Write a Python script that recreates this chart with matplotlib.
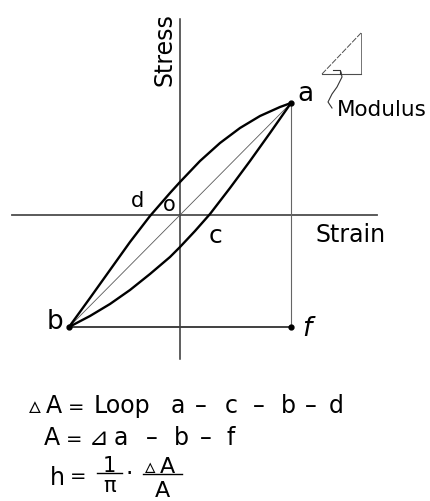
import numpy as np
import matplotlib.pyplot as plt

# loop branches, strain vs stress (origin at axis crossing)
upper_x = [-111, -90, -70, -50, -30, -10, 0, 20, 40, 60, 80, 100, 111]
upper_y = [-112, -83, -55, -27, -1, 22, 33, 54, 72, 87, 99, 108, 112]
lower_x = [-111, -90, -70, -50, -30, -10, 0, 15, 30, 50, 70, 90, 111]
lower_y = [-112, -101, -89, -75, -59, -42, -32, -16, 1, 27, 54, 82, 112]

pt_a = (111, 112)
pt_b = (-111, -112)
pt_f = (111, -112)

strain_axis = (-168, 197)
stress_axis = (-144, 196)

# little modulus triangle + leader
tri_x = [142, 181, 181, 142]
tri_y = [141, 182, 141, 141]
lead_x = [161, 162, 157, 152, 148, 152]
lead_y = [143, 138, 128, 121, 113, 107]

# formula lines: (text, x centre in px, size)
line1 = [('\u25b5', 35, 17), ('A', 54, 17), ('=', 76, 14), ('Loop', 122, 17), ('a', 178, 17),
         ('\u2013', 201, 17), ('c', 231, 17), ('\u2013', 259, 17), ('b', 288, 17),
         ('\u2013', 311, 17), ('d', 336, 17)]
line2 = [('A', 52, 17), ('=', 74, 14), ('\u22bf', 99, 17), ('a', 121, 17), ('\u2013', 152, 17),
         ('b', 181, 17), ('\u2013', 206, 17), ('f', 231, 17)]

fig = plt.figure(figsize=(4.30, 5.02), dpi=100)
ax = fig.add_axes([0, 0, 1, 1])
ax.set_xlim(-180, 250)
ax.set_ylim(-286, 216)
ax.axis('off')


def P(x, y):
    # pixel position of the scan -> axis coords
    return x - 180, 216 - y


# axes
ax.plot(strain_axis, [0, 0], color='0.3', lw=1.3)
ax.plot([0, 0], stress_axis, color='0.2', lw=1.1)

# helper lines
ax.plot([pt_b[0], pt_a[0]], [pt_b[1], pt_a[1]], color='0.35', lw=0.6)
ax.plot([pt_a[0], pt_f[0]], [pt_a[1], pt_f[1]], color='0.4', lw=0.8)
ax.plot([pt_b[0], pt_f[0]], [pt_b[1], pt_f[1]], color='0.25', lw=1.4)

# loop
ax.plot(upper_x, upper_y, color='k', lw=1.7, solid_joinstyle='round')
ax.plot(lower_x, lower_y, color='k', lw=1.7, solid_joinstyle='round')

for p in (pt_a, pt_b, pt_f):
    ax.plot(p[0], p[1], 'o', color='k', ms=3.5)

# modulus sketch
ax.plot(tri_x[:2], tri_y[:2], color='0.3', lw=0.7, ls=(0, (6, 1.5)))
ax.plot(tri_x[1:3], tri_y[1:3], color='0.45', lw=0.7)
ax.plot(tri_x[2:], tri_y[2:], color='0.3', lw=0.8)
ax.plot([153, 160, 160], [145, 145, 141], color='0.2', lw=0.8)
ax.plot(lead_x, lead_y, color='0.2', lw=0.8)

fs = 17
ax.text(*P(305, 94), 'a', fontsize=19, ha='center', va='center')
ax.text(*P(55, 322), 'b', fontsize=19, ha='center', va='center')
ax.text(*P(216, 236), 'c', fontsize=18, ha='center', va='center')
ax.text(*P(138, 201), 'd', fontsize=15, ha='center', va='center')
ax.text(*P(169, 205), 'o', fontsize=15, ha='center', va='center')
ax.text(*P(307, 329), 'f', fontsize=19, ha='center', va='center', style='italic')
ax.text(*P(351, 235), 'Strain', fontsize=fs, ha='center', va='center')
ax.text(*P(165, 50), 'Stress', fontsize=fs, ha='center', va='center', rotation=90)
ax.text(*P(382, 110), 'Modulus', fontsize=15.5, ha='center', va='center')

# formulas
for s, x, size in line1:
    ax.text(*P(x, 413), s, fontsize=size, ha='center', va='baseline')
for s, x, size in line2:
    ax.text(*P(x, 445), s, fontsize=size, ha='center', va='baseline')
ax.text(*P(57, 485), 'h', fontsize=fs, ha='center', va='baseline')
ax.text(*P(78, 482), '=', fontsize=14, ha='center', va='baseline')
ax.text(*P(109, 472), '1', fontsize=15, ha='center', va='baseline')
ax.plot(*zip(P(97, 474), P(122, 474)), color='k', lw=1.0)
ax.text(*P(110, 476), '\u03c0', fontsize=15, ha='center', va='top')
ax.text(*P(129, 474), '\u00b7', fontsize=fs, ha='center', va='center')
ax.text(*P(150, 473), '\u25b5', fontsize=15, ha='center', va='baseline')
ax.text(*P(167, 473), 'A', fontsize=16, ha='center', va='baseline')
ax.plot(*zip(P(143, 475), P(182, 475)), color='k', lw=1.0)
ax.text(*P(162, 497), 'A', fontsize=16, ha='center', va='baseline')

fig.savefig('out.png', dpi=100)
